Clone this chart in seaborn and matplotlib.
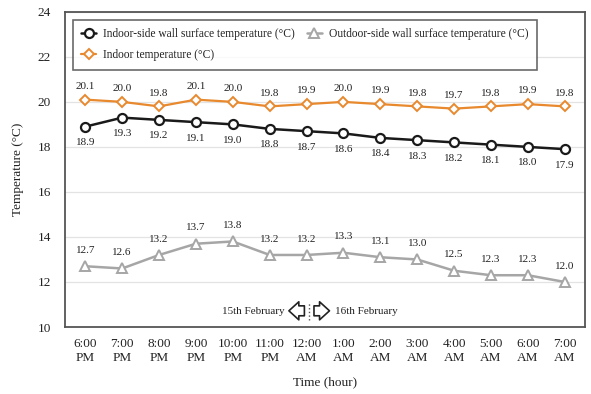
import matplotlib
matplotlib.use("Agg")
import matplotlib.pyplot as plt
import seaborn as sns
import numpy as np

times = ["6:00\nPM", "7:00\nPM", "8:00\nPM", "9:00\nPM", "10:00\nPM", "11:00\nPM",
         "12:00\nAM", "1:00\nAM", "2:00\nAM", "3:00\nAM", "4:00\nAM", "5:00\nAM",
         "6:00\nAM", "7:00\nAM"]
indoor_wall = [18.9, 19.3, 19.2, 19.1, 19.0, 18.8, 18.7, 18.6, 18.4, 18.3, 18.2, 18.1, 18.0, 17.9]
indoor_temp = [20.1, 20.0, 19.8, 20.1, 20.0, 19.8, 19.9, 20.0, 19.9, 19.8, 19.7, 19.8, 19.9, 19.8]
outdoor_wall = [12.7, 12.6, 13.2, 13.7, 13.8, 13.2, 13.2, 13.3, 13.1, 13.0, 12.5, 12.3, 12.3, 12.0]
yticks = [10, 12, 14, 16, 18, 20, 22, 24]

sns.set_theme(style="white")
plt.rcParams['font.family'] = ['Liberation Serif', 'DejaVu Sans']

fig = plt.figure(figsize=(5.91, 3.94), dpi=100)
ax = fig.add_axes([0.110, 0.170, 0.880, 0.800])

x = np.arange(len(times))
c_black = "#1a1a1a"
c_orange = "#E8892E"
c_gray = "#A6A6A6"

sns.lineplot(x=x, y=indoor_wall, ax=ax, color=c_black, lw=1.8, marker="o", ms=6.5,
             markerfacecolor="white", markeredgecolor=c_black, markeredgewidth=1.6,
             label="Indoor-side wall surface temperature (°C)")
sns.lineplot(x=x, y=indoor_temp, ax=ax, color=c_orange, lw=1.6, marker="D", ms=5.5,
             markerfacecolor="white", markeredgecolor=c_orange, markeredgewidth=1.4,
             label="Indoor temperature (°C)")
sns.lineplot(x=x, y=outdoor_wall, ax=ax, color=c_gray, lw=1.8, marker="^", ms=7,
             markerfacecolor="white", markeredgecolor=c_gray, markeredgewidth=1.4,
             label="Outdoor-side wall surface temperature (°C)")

for xi, v in zip(x, indoor_wall):
    ax.annotate(f"{v:.1f}", (xi, v), xytext=(0, -11.5), textcoords="offset points",
                ha="center", va="center", fontsize=8, color="#222222")
for xi, v in zip(x, indoor_temp):
    ax.annotate(f"{v:.1f}", (xi, v), xytext=(0, 9.5), textcoords="offset points",
                ha="center", va="center", fontsize=8, color="#222222")
for xi, v in zip(x, outdoor_wall):
    ax.annotate(f"{v:.1f}", (xi, v), xytext=(0, 11.5), textcoords="offset points",
                ha="center", va="center", fontsize=8, color="#222222")

ax.set_xlim(-0.55, len(times) - 0.45)
ax.set_ylim(10, 24)
ax.set_yticks(yticks)
ax.set_xticks(x)
ax.set_xticklabels(times)
ax.tick_params(axis="x", labelsize=9.5, length=0, colors="#222222", pad=8)
ax.tick_params(axis="y", labelsize=9.5, length=0, colors="#222222", pad=10)
ax.yaxis.grid(True, color="#E3E3E3", lw=0.9)
ax.xaxis.grid(False)
for s in ax.spines.values():
    s.set_color("#555555")
    s.set_linewidth(1.3)

ax.set_ylabel("Temperature (°C)", fontsize=9.5, color="#222222", labelpad=10)
ax.set_xlabel("Time (hour)", fontsize=9.5, color="#222222", labelpad=9)

# day divider annotation
ax.plot([6.07, 6.07], [10.3, 11.1], ls=":", color="#555555", lw=1.0)
ax.text(5.40, 10.7, "15th February", ha="right", va="center", fontsize=8, color="#222222")
ax.text(6.76, 10.7, "16th February", ha="left", va="center", fontsize=8, color="#222222")
astyle = "simple,head_length=0.55,head_width=1.0,tail_width=0.55"
ax.annotate("", xy=(5.52, 10.72), xytext=(5.94, 10.72),
            arrowprops=dict(arrowstyle=astyle, fc="white", ec="#222222", lw=1.2,
                            shrinkA=0, shrinkB=0, mutation_scale=13))
ax.annotate("", xy=(6.62, 10.72), xytext=(6.20, 10.72),
            arrowprops=dict(arrowstyle=astyle, fc="white", ec="#222222", lw=1.2,
                            shrinkA=0, shrinkB=0, mutation_scale=13))

h, l = ax.get_legend_handles_labels()
leg = ax.legend(h, l, ncol=2, loc="upper left",
                bbox_to_anchor=(0.015, 0.975), borderaxespad=0, fontsize=8.3,
                frameon=True, fancybox=False,
                edgecolor="#444444", borderpad=0.75, handlelength=1.3, columnspacing=1.0,
                handletextpad=0.6, labelspacing=0.75)
leg.get_frame().set_linewidth(1.2)
for t in leg.get_texts():
    t.set_color("#222222")

fig.savefig("out.png", dpi=100)
